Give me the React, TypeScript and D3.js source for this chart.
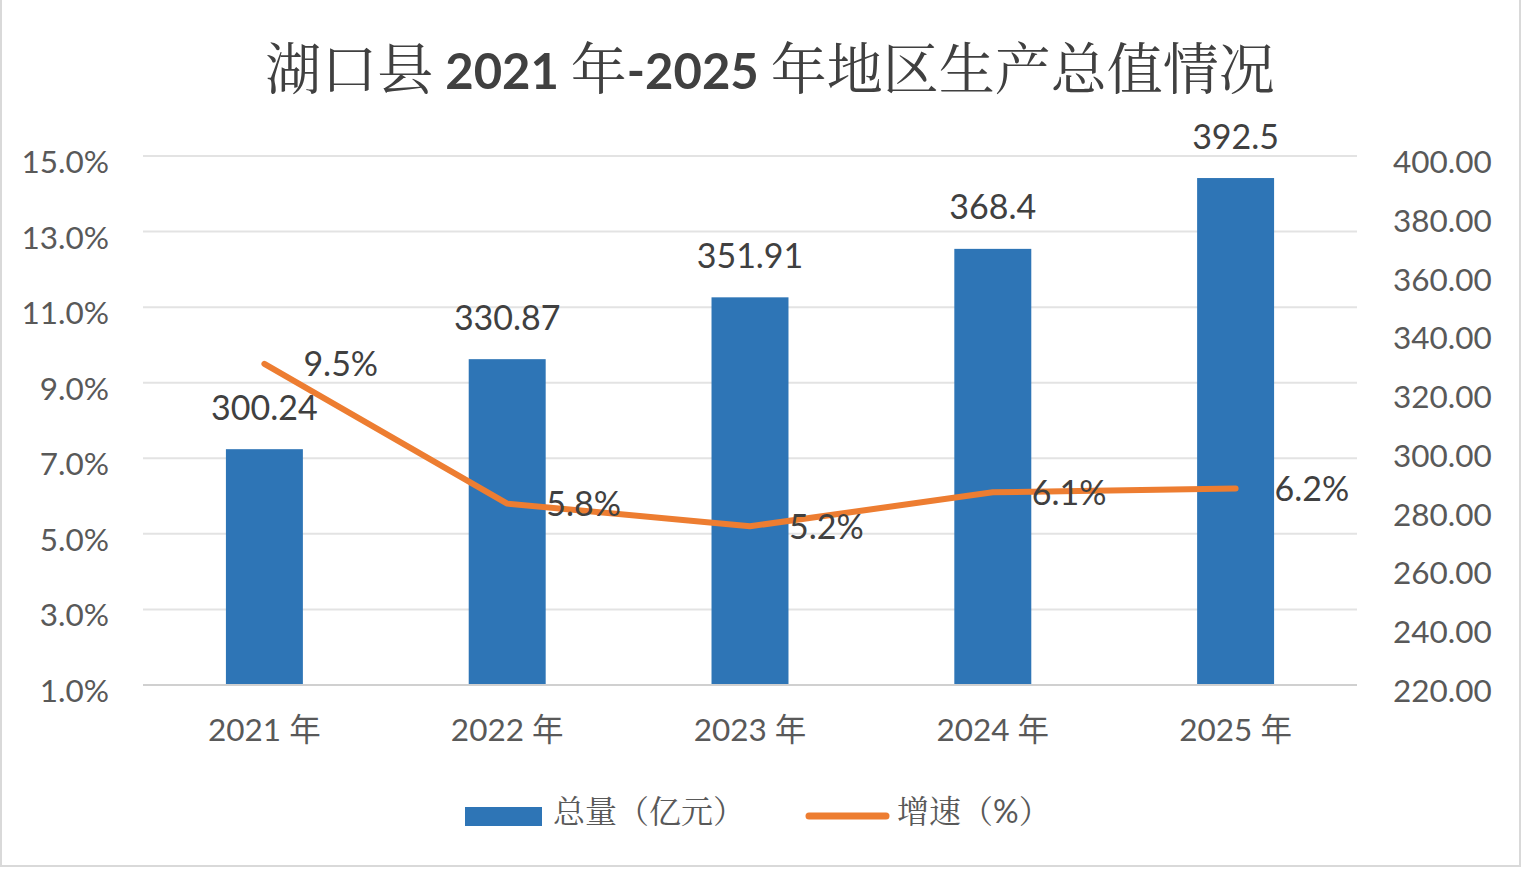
import React from "react";
import * as d3 from "d3";

const years = ["2021 年", "2022 年", "2023 年", "2024 年", "2025 年"];
const totals = [300.24, 330.87, 351.91, 368.4, 392.5];
const totalLabels = ["300.24", "330.87", "351.91", "368.4", "392.5"];
const growth = [9.5, 5.8, 5.2, 6.1, 6.2];
const growthLabels = ["9.5%", "5.8%", "5.2%", "6.1%", "6.2%"];
const leftTicks = [1, 3, 5, 7, 9, 11, 13, 15];
const rightTicks = [220, 240, 260, 280, 300, 320, 340, 360, 380, 400];
const legendItems = ["总量（亿元）", "增速（", "%", "）"];

const W = 1524;
const H = 876;
const LATIN = "Lato, 'Noto Sans CJK SC', sans-serif";
const CJK = "'Noto Serif CJK SC', 'Noto Sans CJK SC', sans-serif";
const BLUE = "#2E75B6";
const ORANGE = "#ED7D31";

export default function App() {
  const x = d3.scaleBand<string>().domain(years).range([143, 1357]).padding(0);
  const yL = d3.scaleLinear().domain([1, 15]).range([685, 156]);
  const yR = d3.scaleLinear().domain([220, 400]).range([685, 156]);
  const barW = x.bandwidth() * 0.317;
  const cx = (d: string) => (x(d) as number) + x.bandwidth() / 2;

  const line = d3
    .line<number>()
    .x((_, i) => cx(years[i]))
    .y((d) => yL(d));

  return (
    <div style={{ position: "fixed", left: 0, top: 0, width: W, height: H, background: "#fff" }}>
      <svg width={W} height={H} style={{ display: "block" }}>
        <rect x={0} y={0} width={W} height={H} fill="#fff" />
        <rect x={1} y={-2} width={1519} height={868} fill="none" stroke="#d9d9d9" strokeWidth={2} />

        {/* title */}
        <text x={770} y={89} textAnchor="middle" fill="#404040">
          <tspan fontFamily={CJK} fontSize={56}>湖口县</tspan>
          <tspan fontFamily={LATIN} fontSize={49} fontWeight={700}> 2021 </tspan>
          <tspan fontFamily={CJK} fontSize={56}>年</tspan>
          <tspan fontFamily={LATIN} fontSize={49} fontWeight={700}>-2025 </tspan>
          <tspan fontFamily={CJK} fontSize={56}>年地区生产总值情况</tspan>
        </text>

        {/* gridlines */}
        {leftTicks.map((t) => (
          <line key={"g" + t} x1={143} x2={1357} y1={yL(t)} y2={yL(t)} stroke={t === 1 ? "#d0d0d0" : "#e3e3e3"} strokeWidth={2} />
        ))}

        {/* left ticks */}
        {leftTicks.map((t) => (
          <text key={"l" + t} x={109} y={yL(t) + 17} textAnchor="end" fontFamily={LATIN} fontSize={31.5} fill="#595959">
            {t.toFixed(1) + "%"}
          </text>
        ))}

        {/* right ticks */}
        {rightTicks.map((t) => (
          <text key={"r" + t} x={1393} y={yR(t) + 17} textAnchor="start" fontFamily={LATIN} fontSize={31.5} fill="#595959">
            {t.toFixed(2)}
          </text>
        ))}

        {/* bars */}
        {totals.map((v, i) => (
          <rect key={"b" + i} x={cx(years[i]) - barW / 2} y={yR(v)} width={barW} height={684 - yR(v)} fill={BLUE} />
        ))}

        {/* bar labels */}
        {totals.map((v, i) => (
          <text key={"bl" + i} x={cx(years[i])} y={yR(v) - 29.5} textAnchor="middle" fontFamily={LATIN} fontSize={34} fill="#404040">
            {totalLabels[i]}
          </text>
        ))}

        {/* line */}
        <path d={line(growth) || ""} fill="none" stroke={ORANGE} strokeWidth={6} strokeLinecap="round" strokeLinejoin="round" />

        {/* line labels */}
        {growth.map((v, i) => (
          <text key={"ll" + i} x={cx(years[i]) + 39} y={yL(v) + 12.5} textAnchor="start" fontFamily={LATIN} fontSize={34} fill="#404040">
            {growthLabels[i]}
          </text>
        ))}

        {/* x labels */}
        {years.map((yv) => (
          <text key={"x" + yv} x={cx(yv)} y={741} textAnchor="middle" fontFamily={LATIN} fontSize={31.5} fill="#595959">
            {yv}
          </text>
        ))}

        {/* legend */}
        <rect x={465} y={807} width={77} height={19} fill={BLUE} />
        <text x={553} y={823} fontFamily={CJK} fontSize={32} fill="#595959">{legendItems[0]}</text>
        <line x1={809} x2={886} y1={816} y2={816} stroke={ORANGE} strokeWidth={7} strokeLinecap="round" />
        <text x={897} y={823} fill="#595959">
          <tspan fontFamily={CJK} fontSize={32}>{legendItems[1]}</tspan>
          <tspan fontFamily={LATIN} fontSize={32}>{legendItems[2]}</tspan>
          <tspan fontFamily={CJK} fontSize={32}>{legendItems[3]}</tspan>
        </text>
      </svg>
    </div>
  );
}
